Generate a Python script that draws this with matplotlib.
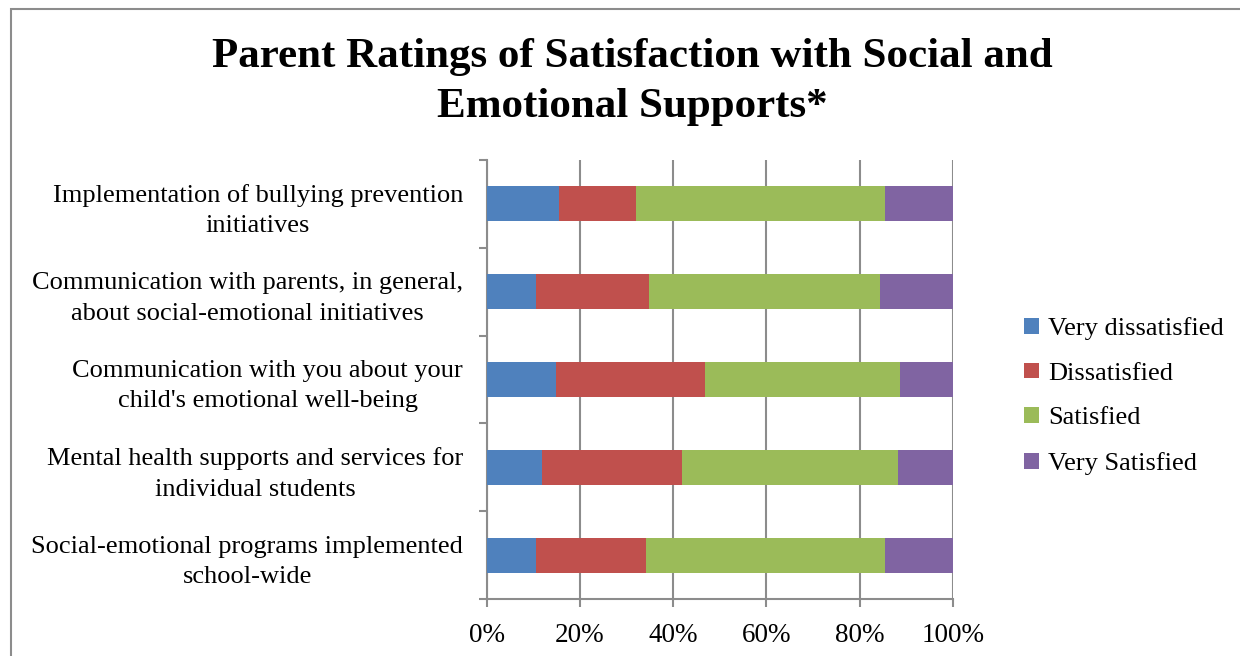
import matplotlib.pyplot as plt
import matplotlib.patches as patches
import numpy as np
from matplotlib.ticker import FuncFormatter

categories = [
    "Implementation of bullying prevention\ninitiatives",
    "Communication with parents, in general,\nabout social-emotional initiatives",
    "Communication with you about your\nchild's emotional well-being",
    "Mental health supports and services for\nindividual students",
    "Social-emotional programs implemented\nschool-wide",
]
series_names = ["Very dissatisfied", "Dissatisfied", "Satisfied", "Very Satisfied"]
very_dissatisfied = [15.6, 10.6, 14.9, 11.9, 10.6]
dissatisfied = [16.4, 24.1, 31.9, 30.0, 23.6]
satisfied = [53.5, 49.6, 41.8, 46.3, 51.2]
very_satisfied = [14.5, 15.7, 11.4, 11.8, 14.6]
colors = ["#4F81BD", "#C0504D", "#9BBB59", "#8064A2"]
xticks = [0, 20, 40, 60, 80, 100]

plt.rcParams['font.family'] = ['Liberation Serif', 'DejaVu Serif']

fig = plt.figure(figsize=(12.4, 6.56), dpi=100)
fig.patch.set_facecolor('white')

# chart frame, clipped at the right and bottom edges
frame = patches.Rectangle((11 / 1240, -0.1), 1.2, (656 - 9) / 656 + 0.1,
                          transform=fig.transFigure, fill=False,
                          edgecolor='#8c8c8c', linewidth=1.5)
fig.patches.append(frame)

ax = fig.add_axes([486.7 / 1240, 57 / 656, (953 - 486.7) / 1240, (599 - 160) / 656])

values = [very_dissatisfied, dissatisfied, satisfied, very_satisfied]
y = np.arange(len(categories))
left = np.zeros(len(categories))
for name, vals, col in zip(series_names, values, colors):
    vals = np.array(vals)
    ax.barh(y, vals, left=left, height=0.4, color=col, label=name, zorder=3)
    left += vals

ax.set_xlim(0, 100)
ax.set_ylim(len(categories) - 0.5, -0.5)
ax.set_xticks(xticks)
ax.xaxis.set_major_formatter(FuncFormatter(lambda v, p: f"{v:.0f}%"))
ax.grid(axis='x', color='#8c8c8c', linewidth=1.5, zorder=0)

# category ticks sit between the bars
ax.set_yticks(np.arange(len(categories) + 1) - 0.5)
ax.set_yticklabels([])
ax.set_yticks(y, minor=True)
ax.set_yticklabels(categories, minor=True, fontsize=19, multialignment='center',
                   linespacing=1.5)
ax.tick_params(axis='y', which='minor', length=0, pad=17)
ax.tick_params(axis='y', which='major', length=6, width=1.5, color='#8c8c8c')
ax.tick_params(axis='x', length=6, width=1.5, color='#8c8c8c', labelsize=19.5, pad=11)

for side in ['top', 'right']:
    ax.spines[side].set_visible(False)
for side in ['left', 'bottom']:
    ax.spines[side].set_color('#8c8c8c')
    ax.spines[side].set_linewidth(1.5)

fig.text(632 / 1240, 1 - 38 / 656,
         "Parent Ratings of Satisfaction with Social and\nEmotional Supports*",
         ha='center', va='top', fontsize=31, fontweight='bold', linespacing=1.4)

leg = fig.legend(loc='center left', bbox_to_anchor=(1024 / 1240, 1 - 396 / 656),
                 frameon=False, fontsize=19, handlelength=0.55, handleheight=0.55,
                 handletextpad=0.35, labelspacing=0.85, borderpad=0, borderaxespad=0)

fig.savefig('out.png', dpi=100, facecolor='white')
